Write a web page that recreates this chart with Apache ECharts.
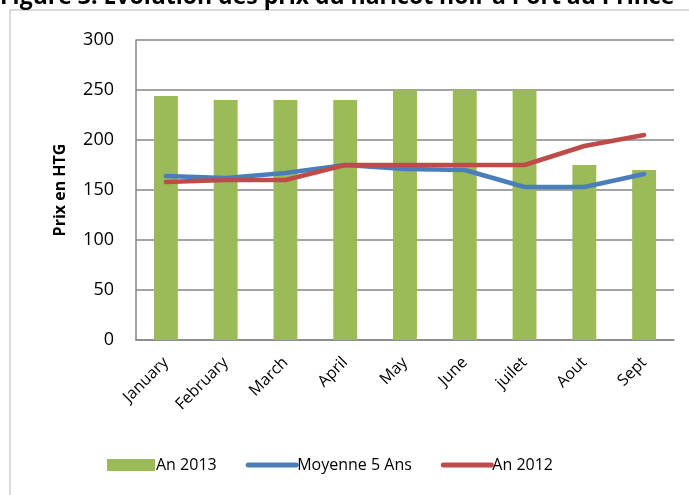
<!DOCTYPE html>
<html><head><meta charset="utf-8">
<script src="https://cdn.jsdelivr.net/npm/echarts@6/dist/echarts.min.js"></script>
<style>html,body{margin:0;padding:0;background:#fff}#c{width:689px;height:495px}</style>
</head><body><div id="c"></div>
<script>
const categories = ["January","February","March","April","May","June","juilet","Aout","Sept"];
const an2013 = [244, 240, 240, 240, 250, 250, 250, 175, 170];
const moyenne5Ans = [164, 162, 167, 175, 171, 170, 153, 153, 166];
const an2012 = [158, 160, 160, 175, 175, 175, 175, 194, 205];
const yTicks = [0, 50, 100, 150, 200, 250, 300];

const font = "'Open Sans', 'Noto Sans', sans-serif";
const chart = echarts.init(document.getElementById('c'));
chart.setOption({
  animation: false,
  graphic: [
    {type: 'rect', shape: {x: 10, y: 10, width: 700, height: 500}, style: {fill: 'none', stroke: '#cfcfcf', lineWidth: 1.5}, z: -1},
    {type: 'text', left: 0, top: -14, style: {text: 'Figure 3. Evolution des prix du haricot noir à Port au Prince', font: 'bold 23px ' + font, fill: '#000'}}
  ],
  grid: {left: 136, right: 15, top: 40, bottom: 155},
  legend: {
    bottom: 17, left: 102, itemGap: 29, itemWidth: 48, itemHeight: 12,
    textStyle: {fontFamily: font, fontSize: 16, color: '#000', padding: [0,0,0,-4]},
    data: [
      {name: 'An 2013', icon: 'rect'},
      {name: 'Moyenne 5 Ans', itemStyle: {opacity: 0}, lineStyle: {width: 5, cap: 'round'}},
      {name: 'An 2012', itemStyle: {opacity: 0}, lineStyle: {width: 5, cap: 'round'}}
    ]
  },
  xAxis: {
    type: 'category', data: categories, boundaryGap: true,
    axisLine: {lineStyle: {color: '#868686', width: 1.5}},
    axisTick: {show: false},
    axisLabel: {rotate: 45, fontFamily: font, fontSize: 16, color: '#000', margin: 20, interval: 0}
  },
  yAxis: {
    type: 'value', min: yTicks[0], max: yTicks[yTicks.length-1], interval: 50,
    name: 'Prix en HTG', nameLocation: 'middle', nameGap: 68, nameRotate: 90,
    nameTextStyle: {fontFamily: font, fontSize: 16, fontWeight: 'bold', color: '#000'},
    axisLine: {show: true, lineStyle: {color: '#868686', width: 1.5}},
    axisTick: {show: false},
    splitLine: {lineStyle: {color: '#868686', width: 1.5}},
    axisLabel: {fontFamily: font, fontSize: 18, color: '#000', margin: 22}
  },
  series: [
    {name: 'An 2013', type: 'bar', data: an2013, barWidth: '40%', itemStyle: {color: '#9bbb59'}},
    {name: 'Moyenne 5 Ans', type: 'line', data: moyenne5Ans, symbol: 'none', lineStyle: {color: '#4a7ebb', width: 4.5, cap: 'round'}, itemStyle: {color: '#4a7ebb'}},
    {name: 'An 2012', type: 'line', data: an2012, symbol: 'none', lineStyle: {color: '#be4b48', width: 4.5, cap: 'round'}, itemStyle: {color: '#be4b48'}}
  ]
});
</script></body></html>
